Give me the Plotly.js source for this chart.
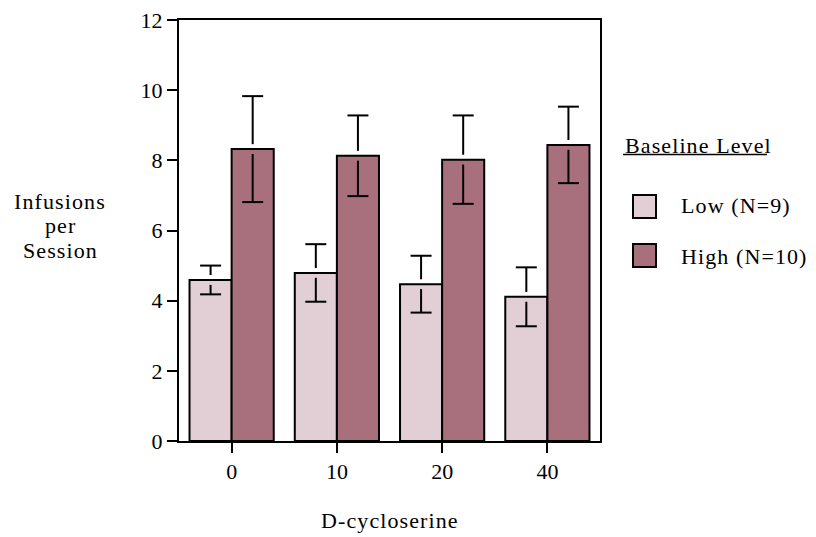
<!DOCTYPE html>
<html>
<head>
<meta charset="utf-8">
<script src="https://cdn.plot.ly/plotly-3.0.1.min.js"></script>
<style>
html,body{margin:0;padding:0;background:#fff;}
#chart{width:816px;height:537px;}
.annotation-text{letter-spacing:1.1px;}
</style>
</head>
<body>
<div id="chart"></div>
<script>
const categories = ["0", "10", "20", "40"];
const lowValues = [4.59, 4.79, 4.47, 4.11];
const lowErrors = [0.41, 0.82, 0.81, 0.84];
const highValues = [8.32, 8.13, 8.02, 8.44];
const highErrors = [1.51, 1.15, 1.26, 1.09];
const seriesNames = ["Low (N=9)", "High (N=10)"];
const yTicks = [0, 2, 4, 6, 8, 10, 12];

const FONT = "Liberation Serif, Times New Roman, serif";
const lowColor = "#e2cfd5";
const highColor = "#a8707d";
const GAP = 0.14; // visual gap of whiskers at the bar edge (data units)

function barTrace(name, vals, color, grp) {
  return {
    type: "bar", name: name, x: categories, y: vals,
    offsetgroup: grp, alignmentgroup: "a",
    marker: {color: color, line: {color: "#000", width: 2}},
    showlegend: false
  };
}
function whiskerTrace(vals, errs, grp) {
  const x = [], y = [];
  categories.forEach((c, i) => {
    x.push(c, c, null, c, c, null);
    y.push(vals[i] + GAP, vals[i] + errs[i], null, vals[i] - GAP, vals[i] - errs[i], null);
  });
  return {
    type: "scatter", mode: "lines", x: x, y: y, offsetgroup: grp,
    line: {color: "#000", width: 2}, connectgaps: false, showlegend: false
  };
}
function capTrace(vals, errs, grp) {
  const x = [], y = [];
  categories.forEach((c, i) => {
    x.push(c, c);
    y.push(vals[i] + errs[i], vals[i] - errs[i]);
  });
  return {
    type: "scatter", mode: "markers", x: x, y: y, offsetgroup: grp,
    marker: {symbol: "line-ew", size: 15, color: "#000", line: {color: "#000", width: 2}},
    showlegend: false
  };
}

const data = [
  barTrace(seriesNames[0], lowValues, lowColor, "low"),
  barTrace(seriesNames[1], highValues, highColor, "high"),
  whiskerTrace(lowValues, lowErrors, "low"),
  whiskerTrace(highValues, highErrors, "high"),
  capTrace(lowValues, lowErrors, "low"),
  capTrace(highValues, highErrors, "high")
];

const px = v => (v - 179) / 421;
const py = v => (441 - v) / 421;
const txt = {family: FONT, size: 22, color: "#000"};

const layout = {
  width: 816, height: 537,
  margin: {l: 179, r: 216, t: 20, b: 96, pad: 0},
  paper_bgcolor: "#fff", plot_bgcolor: "#fff",
  font: {family: FONT, size: 20, color: "#000"},
  barmode: "group", bargap: 0.2, bargroupgap: 0,
  scattermode: "group", scattergap: 0.2,
  xaxis: {
    type: "category", range: [-0.5, 3.5],
    showline: true, linecolor: "#000", linewidth: 2, mirror: true,
    ticks: "outside", ticklen: 10, tickwidth: 2, tickcolor: "#000",
    showgrid: false, zeroline: false,
    tickfont: {family: FONT, size: 22, color: "#000"}
  },
  yaxis: {
    range: [0, 12], tickvals: yTicks, ticktext: yTicks.map(String),
    showline: true, linecolor: "#000", linewidth: 2, mirror: true,
    ticks: "outside", ticklen: 10, tickwidth: 2, tickcolor: "#000",
    showgrid: false, zeroline: false,
    tickfont: {family: FONT, size: 22, color: "#000"}
  },
  shapes: [
    {type: "rect", xref: "paper", yref: "paper",
     x0: px(633), x1: px(656), y0: py(218), y1: py(195),
     fillcolor: lowColor, line: {color: "#000", width: 2}},
    {type: "rect", xref: "paper", yref: "paper",
     x0: px(633), x1: px(656), y0: py(267), y1: py(244),
     fillcolor: highColor, line: {color: "#000", width: 2}},
    {type: "line", xref: "paper", yref: "paper",
     x0: px(623), x1: px(767), y0: py(154.5), y1: py(154.5),
     line: {color: "#000", width: 1.5}}
  ],
  annotations: [
    {text: "Infusions", x: px(60), y: py(201)},
    {text: "per", x: px(60), y: py(226)},
    {text: "Session", x: px(60), y: py(250)},
    {text: "D-cycloserine", x: 0.5, y: py(520)},
    {text: "Baseline Level", x: px(623), y: py(145), xanchor: "left"},
    {text: seriesNames[0], x: px(679), y: py(205), xanchor: "left"},
    {text: seriesNames[1], x: px(679), y: py(256), xanchor: "left"}
  ].map(a => Object.assign({xref: "paper", yref: "paper", xanchor: "center", yanchor: "middle",
                             showarrow: false, font: txt}, a))
};

Plotly.newPlot("chart", data, layout, {displayModeBar: false, staticPlot: true});
</script>
</body>
</html>
